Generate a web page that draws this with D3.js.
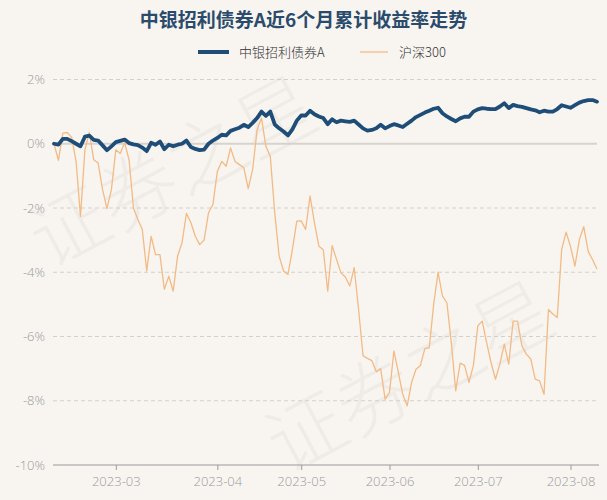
<!DOCTYPE html>
<html>
<head>
<meta charset="utf-8">
<script src="https://cdn.jsdelivr.net/npm/d3@7"></script>
<style>
html,body{margin:0;padding:0;background:#f8f5f1;}
svg{display:block;}
</style>
</head>
<body>
<svg id="chart" width="607" height="500"></svg>
<script>
const dates = [
"2023-02-09","2023-02-10","2023-02-13","2023-02-14","2023-02-15","2023-02-16","2023-02-17","2023-02-20","2023-02-21","2023-02-22","2023-02-23","2023-02-24","2023-02-27","2023-02-28",
"2023-03-01","2023-03-02","2023-03-03","2023-03-06","2023-03-07","2023-03-08","2023-03-09","2023-03-10","2023-03-13","2023-03-14","2023-03-15","2023-03-16","2023-03-17","2023-03-20","2023-03-21","2023-03-22","2023-03-23","2023-03-24","2023-03-27","2023-03-28","2023-03-29","2023-03-30","2023-03-31",
"2023-04-03","2023-04-04","2023-04-06","2023-04-07","2023-04-10","2023-04-11","2023-04-12","2023-04-13","2023-04-14","2023-04-17","2023-04-18","2023-04-19","2023-04-20","2023-04-21","2023-04-24","2023-04-25","2023-04-26","2023-04-27","2023-04-28",
"2023-05-04","2023-05-05","2023-05-08","2023-05-09","2023-05-10","2023-05-11","2023-05-12","2023-05-15","2023-05-16","2023-05-17","2023-05-18","2023-05-19","2023-05-22","2023-05-23","2023-05-24","2023-05-25","2023-05-26","2023-05-29","2023-05-30","2023-05-31",
"2023-06-01","2023-06-02","2023-06-05","2023-06-06","2023-06-07","2023-06-08","2023-06-09","2023-06-12","2023-06-13","2023-06-14","2023-06-15","2023-06-16","2023-06-19","2023-06-20","2023-06-21","2023-06-26","2023-06-27","2023-06-28","2023-06-29","2023-06-30",
"2023-07-03","2023-07-04","2023-07-05","2023-07-06","2023-07-07","2023-07-10","2023-07-11","2023-07-12","2023-07-13","2023-07-14","2023-07-17","2023-07-18","2023-07-19","2023-07-20","2023-07-21","2023-07-24","2023-07-25","2023-07-26","2023-07-27","2023-07-28","2023-07-31",
"2023-08-01","2023-08-02","2023-08-03","2023-08-04","2023-08-07","2023-08-08","2023-08-09"
];

const fundValues = [
0,-0.03,0.15,0.15,0.08,0.0,-0.08,0.22,0.25,0.12,0.1,-0.05,-0.2,-0.08,
0.05,0.09,0.13,0.02,-0.02,-0.04,-0.12,-0.23,0.03,-0.03,0.07,-0.17,-0.03,-0.08,-0.03,0.0,0.1,-0.1,-0.16,-0.2,-0.18,0.0,0.1,
0.18,0.28,0.26,0.4,0.45,0.5,0.59,0.52,0.65,0.8,1.0,0.87,1.0,0.6,0.48,0.38,0.26,0.45,0.72,
0.88,0.88,1.03,0.92,0.85,0.8,0.61,0.76,0.67,0.72,0.7,0.68,0.72,0.6,0.48,0.41,0.43,0.48,0.59,0.48,
0.55,0.61,0.57,0.52,0.62,0.72,0.83,0.9,0.97,1.03,1.09,1.12,0.95,0.85,0.77,0.7,0.79,0.84,0.84,1.0,
1.07,1.11,1.09,1.08,1.08,1.16,1.26,1.11,1.21,1.17,1.15,1.11,1.07,1.04,0.98,1.03,1.0,1.0,1.08,1.2,1.16,
1.12,1.2,1.28,1.33,1.36,1.36,1.31
];

const hs300Values = [
0,-0.52,0.33,0.35,0.2,-0.55,-2.26,-0.19,0.35,-0.5,-0.6,-1.43,-2.02,-1.43,
-0.19,-0.3,0.03,-0.5,-2.0,-2.36,-2.67,-3.96,-2.88,-3.45,-3.45,-4.53,-4.12,-4.59,-3.5,-3.08,-2.17,-2.45,-2.88,-3.14,-3.0,-2.15,-1.89,
-0.86,-0.55,-0.7,-0.13,-0.55,-0.65,-0.75,-1.4,-0.8,0.43,0.8,-0.08,-0.4,-2.15,-3.5,-3.96,-4.07,-3.29,-2.41,
-2.4,-2.67,-1.62,-2.46,-3.19,-3.3,-4.59,-3.17,-3.6,-4.02,-4.15,-4.43,-3.86,-5.16,-6.6,-6.68,-6.75,-7.1,-7.0,-7.95,
-7.74,-6.45,-7.12,-7.8,-8.16,-7.43,-7.02,-6.9,-6.38,-6.35,-5.0,-4.0,-4.74,-4.95,-6.19,-7.69,-6.83,-6.9,-7.43,-6.9,
-5.67,-5.52,-6.19,-6.81,-7.33,-6.86,-6.24,-6.86,-5.52,-5.52,-6.3,-6.55,-6.7,-7.33,-7.38,-7.8,-5.16,-5.3,-5.41,-3.29,-2.75,
-3.2,-3.81,-2.99,-2.58,-3.35,-3.61,-3.9
];

const seriesNames = ["中银招利债券A","沪深300"];
const seriesColors = ["#1e4d78","#f2ba84"];
const yTicks = [2,0,-2,-4,-6,-8,-10];
const xTickLabels = ["2023-03","2023-04","2023-05","2023-06","2023-07","2023-08"];
const titleText = "中银招利债券A近6个月累计收益率走势";

const svg = d3.select("#chart");
const W = 607, H = 500;
const cjk = "'Noto Sans CJK SC','Noto Sans',sans-serif";

svg.append("rect").attr("width",W).attr("height",H).attr("fill","#f8f5f1");

// watermark (kept inside the picture)
const wm = svg.append("g").attr("fill","#000").attr("fill-opacity",0.035)
  .style("font-family",cjk).style("font-size","78px").style("font-weight","300");
[[48,270],[285,475]].forEach(p=>{
  wm.append("text").attr("transform",`translate(${p[0]},${p[1]}) rotate(-28)`).text("证券之星");
});

const x = d3.scalePoint().domain(dates).range([54, 597]);
const y = d3.scaleLinear().domain([-10, 2]).range([465, 79.5]);

// grid
const grid = svg.append("g");
yTicks.filter(t => t !== 0 && t !== -10).forEach(t => {
  grid.append("line").attr("x1",53).attr("x2",597).attr("y1",y(t)).attr("y2",y(t))
    .attr("stroke","#d3d0cc").attr("stroke-width",1).attr("stroke-dasharray","4,3");
});
grid.append("line").attr("x1",53).attr("x2",597).attr("y1",y(0)).attr("y2",y(0))
  .attr("stroke","#d6d3cf").attr("stroke-width",2);

// y labels
const yAxis = d3.axisLeft(y).tickValues(yTicks).tickSize(0).tickPadding(0)
  .tickFormat(d => d + "%");
const yg = svg.append("g").attr("transform","translate(45,0)").call(yAxis);
yg.select(".domain").remove();
yg.selectAll("text").attr("fill","#9a9a9a").style("font-size","13px")
  .style("font-family","'Open Sans','Noto Sans',sans-serif").style("font-weight","300");

// x axis
const tickDates = xTickLabels.map(l => dates.find(d => d.startsWith(l)));
const xAxis = d3.axisBottom(x).tickValues(tickDates).tickSize(5).tickPadding(7)
  .tickFormat(d => d.slice(0,7));
const xg = svg.append("g").attr("transform",`translate(0,${y(-10)})`).call(xAxis);
xg.select(".domain").attr("d",`M53,0H599`).attr("stroke","#9a9a9a");
xg.selectAll(".tick line").attr("stroke","#9a9a9a");
xg.selectAll("text").attr("fill","#9a9a9a").style("font-size","13px")
  .style("font-family","'Open Sans','Noto Sans',sans-serif").style("font-weight","300");

// lines
const line = d3.line().x((d,i) => x(dates[i])).y(d => y(d)).curve(d3.curveLinear);
svg.append("path").datum(hs300Values).attr("d",line).attr("fill","none")
  .attr("stroke",seriesColors[1]).attr("stroke-width",1.3).attr("stroke-linejoin","round");
svg.append("path").datum(fundValues).attr("d",line).attr("fill","none")
  .attr("stroke",seriesColors[0]).attr("stroke-width",3.8).attr("stroke-linejoin","round").attr("stroke-linecap","round");

// title
svg.append("text").attr("x",W/2).attr("y",27).attr("text-anchor","middle")
  .attr("fill","#2b4b6c").style("font-family",cjk).style("font-size","19px").style("font-weight","700")
  .text(titleText);

// legend
const lg = svg.append("g");
const legendItems = [{x:198, w:31, sw:4, tx:239}, {x:360, w:28, sw:1.3, tx:399}];
legendItems.forEach((it,i) => {
  lg.append("line").attr("x1",it.x).attr("x2",it.x+it.w).attr("y1",52).attr("y2",52)
    .attr("stroke",seriesColors[i]).attr("stroke-width",it.sw);
  lg.append("text").attr("x",it.tx).attr("y",52).attr("dy","0.35em")
    .attr("fill","#333").style("font-family",cjk).style("font-size","13px").style("font-weight","300")
    .text(seriesNames[i]);
});
</script>
</body>
</html>
